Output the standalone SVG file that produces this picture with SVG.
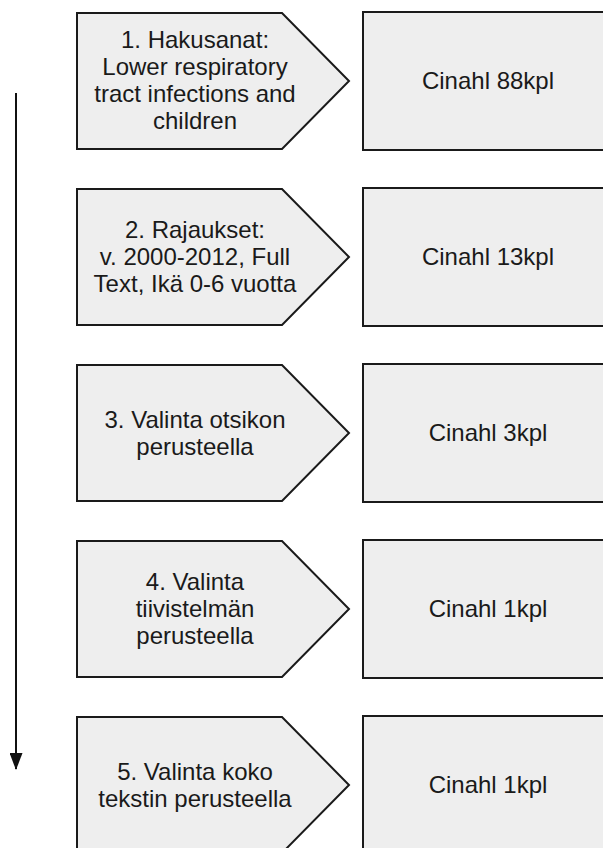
<svg xmlns="http://www.w3.org/2000/svg" width="603" height="848" viewBox="0 0 603 848">
<defs>
<style>
.shape{fill:#eeeeee;stroke:#1a1a1a;stroke-width:2;stroke-linejoin:miter}
.t{font-family:"Liberation Sans",Arial,sans-serif;font-size:24px;fill:#1a1a1a;text-anchor:middle}
</style>
<marker id="ah" markerWidth="17" markerHeight="13" refX="16" refY="6.5" orient="auto" markerUnits="userSpaceOnUse" viewBox="0 0 17 13">
<path d="M0,0 L17,6.5 L0,13 Z" fill="#111"/>
</marker>
</defs>
<rect width="603" height="848" fill="#ffffff"/>
<g id="connectors">
<line x1="16" y1="93" x2="16" y2="769" stroke="#111" stroke-width="2" marker-end="url(#ah)"/>
</g>
<g id="step1">
<polygon class="shape" points="77,13 282,13 349,81 282,149 77,149"/>
<text class="t"><tspan x="195" y="48">1. Hakusanat:</tspan><tspan x="195" y="75">Lower respiratory</tspan><tspan x="195" y="102">tract infections and</tspan><tspan x="195" y="129">children</tspan></text>
</g>
<g id="result1">
<rect class="shape" x="363" y="12" width="262" height="138"/>
<text class="t" x="488" y="89">Cinahl 88kpl</text>
</g>
<g id="step2">
<polygon class="shape" points="77,189 282,189 349,257 282,325 77,325"/>
<text class="t"><tspan x="195" y="238">2. Rajaukset:</tspan><tspan x="195" y="265">v. 2000-2012, Full</tspan><tspan x="195" y="292">Text, Ikä 0-6 vuotta</tspan></text>
</g>
<g id="result2">
<rect class="shape" x="363" y="188" width="262" height="138"/>
<text class="t" x="488" y="265">Cinahl 13kpl</text>
</g>
<g id="step3">
<polygon class="shape" points="77,365 282,365 349,433 282,501 77,501"/>
<text class="t"><tspan x="195" y="428">3. Valinta otsikon</tspan><tspan x="195" y="455">perusteella</tspan></text>
</g>
<g id="result3">
<rect class="shape" x="363" y="364" width="262" height="138"/>
<text class="t" x="488" y="441">Cinahl 3kpl</text>
</g>
<g id="step4">
<polygon class="shape" points="77,541 282,541 349,609 282,677 77,677"/>
<text class="t"><tspan x="195" y="590">4. Valinta</tspan><tspan x="195" y="617">tiivistelmän</tspan><tspan x="195" y="644">perusteella</tspan></text>
</g>
<g id="result4">
<rect class="shape" x="363" y="540" width="262" height="138"/>
<text class="t" x="488" y="617">Cinahl 1kpl</text>
</g>
<g id="step5">
<polygon class="shape" points="77,717 282,717 349,785 282,853 77,853"/>
<text class="t"><tspan x="195" y="780">5. Valinta koko</tspan><tspan x="195" y="807">tekstin perusteella</tspan></text>
</g>
<g id="result5">
<rect class="shape" x="363" y="716" width="262" height="138"/>
<text class="t" x="488" y="793">Cinahl 1kpl</text>
</g>
</svg>
